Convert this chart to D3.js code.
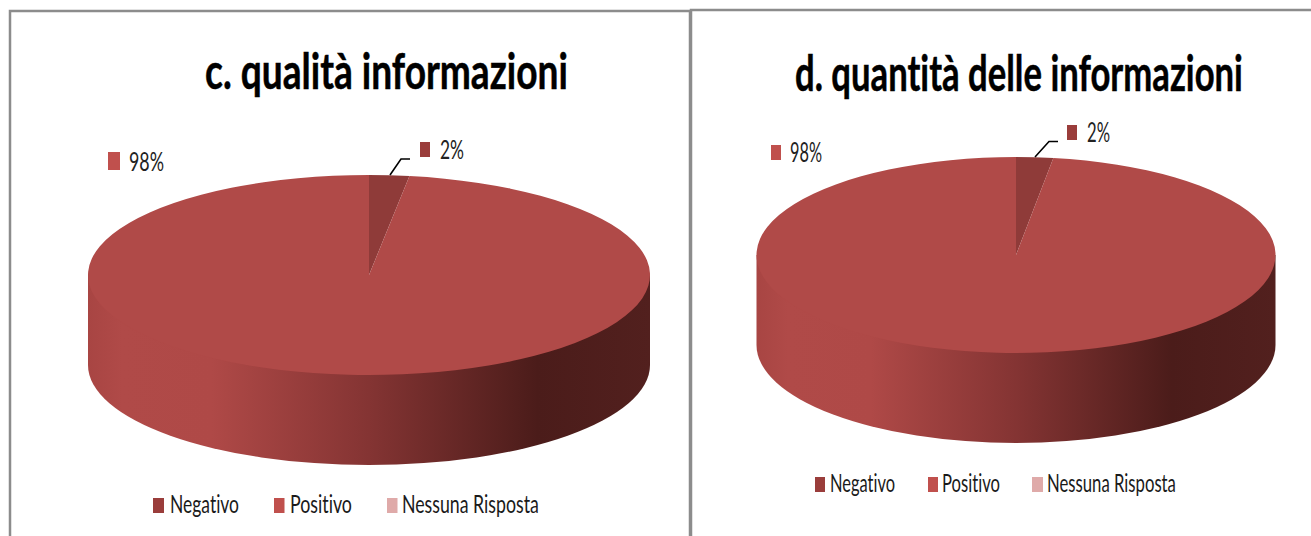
<!DOCTYPE html>
<html><head><meta charset="utf-8">
<script src="https://cdn.jsdelivr.net/npm/d3@7/dist/d3.min.js"></script>
<style>html,body{margin:0;padding:0;background:#fff;overflow:hidden}svg{display:block}
text{font-family:Lato,"Open Sans",sans-serif;font-variant-ligatures:none;font-feature-settings:"liga" 0}</style></head>
<body><svg id="c" width="1311" height="536"></svg>
<script>
const categories = ["Negativo", "Positivo", "Nessuna Risposta"];
const colors = ["#9a3d3b", "#c0504d", "#dfaaa9"];
const valuesC = [2.3, 97.7, 0];
const valuesD = [2.3, 97.7, 0];
const titleC = "c. qualità informazioni";
const titleD = "d. quantità delle informazioni";

const panels = [
 {id:"c", title:titleC, values:valuesC, cx:369, cy:275, rx:281, ry:100, depth:90,
  tx:205, tw:363, ty:89, leader:[[390,175],[401,159],[410,159]],
  lab:[{m:[420,142,10,15],t:[440,24,159]},{m:[108,152,12,18],t:[129,35,171]}],
  leg:{y:498,h:15,y0:513,items:[[153,11,170,69],[274,10.5,290,62],[387,10.5,402,137]]}},
 {id:"d", title:titleD, values:valuesD, cx:1016, cy:255, rx:259.5, ry:98, depth:90,
  tx:795, tw:448, ty:91, leader:[[1035,157],[1049,141.5],[1058,141.5]],
  lab:[{m:[1067,125,10,15],t:[1087,23,142]},{m:[771,145,10,15],t:[790,32,162]}],
  leg:{y:477,h:15,y0:492,items:[[815,10,830,65],[928,10,942,58],[1032,11,1047,129]]}}
];

const svg = d3.select("#c");
const defs = svg.append("defs");
const R = 100;
const pct = d3.format(".0f");

// Narrow text by horizontal scaling so its box really is the target width
function fitText(sel, x, y, w){
  const n = sel.node().getComputedTextLength();
  sel.attr("transform",`translate(${x},${y}) scale(${w/n},1)`);
  return sel;
}

// frames
const frames = [[[10,536],[10,11],[690,11],[690,536]],[[691,536],[691,10],[1311,10]]];
svg.selectAll("path.frame").data(frames).join("path").attr("class","frame")
 .attr("d",d3.line()).attr("fill","none").attr("stroke","#8c8c8c").attr("stroke-width",2.5);

panels.forEach(p=>{
  const grad = defs.append("linearGradient").attr("id","side"+p.id)
     .attr("gradientUnits","userSpaceOnUse")
     .attr("x1",p.cx-p.rx).attr("x2",p.cx+p.rx).attr("y1",0).attr("y2",0);
  [[0,"#a84543"],[0.06,"#b04a48"],[0.22,"#af4947"],[0.5,"#843433"],[0.80,"#4b1c1a"],[1,"#52201e"]]
    .forEach(s=>grad.append("stop").attr("offset",s[0]).attr("stop-color",s[1]));

  const g = svg.append("g");
  // side wall
  g.append("path")
   .attr("d",`M${p.cx-p.rx},${p.cy}V${p.cy+p.depth}A${p.rx},${p.ry} 0 0 0 ${p.cx+p.rx},${p.cy+p.depth}V${p.cy}Z`)
   .attr("fill",`url(#side${p.id})`);

  // top face
  const pie = d3.pie().sort(null).startAngle(0).endAngle(2*Math.PI)(p.values);
  const arc = d3.arc().innerRadius(0).outerRadius(R);
  const top = ["#8f3b39","#b04a48","#dfaaa9"];
  g.append("g").attr("transform",`translate(${p.cx},${p.cy}) scale(${p.rx/R},${p.ry/R})`)
   .selectAll("path").data(pie).join("path").attr("d",arc).attr("fill",(d,i)=>top[i]);

  // title
  fitText(svg.append("text").text(p.title)
   .attr("font-size",50).attr("font-weight",700).attr("fill","#000")
   .attr("stroke","#000").attr("stroke-width",0.5), p.tx, p.ty, p.tw);

  // leader
  svg.append("path").attr("d",d3.line()(p.leader)).attr("fill","none")
   .attr("stroke","#000").attr("stroke-width",1.6);

  // data labels
  p.lab.forEach((l,i)=>{
    svg.append("rect").attr("x",l.m[0]).attr("y",l.m[1]).attr("width",l.m[2]).attr("height",l.m[3])
      .attr("fill",i==0?"#9a3d3b":"#c0504d");
    fitText(svg.append("text").text(pct(p.values[i])+"%")
      .attr("font-size",26).attr("fill","#222"), l.t[0], l.t[2], l.t[1]);
  });

  // legend
  categories.forEach((c,i)=>{
    const it=p.leg.items[i];
    svg.append("rect").attr("x",it[0]).attr("y",p.leg.y).attr("width",it[1]).attr("height",p.leg.h).attr("fill",colors[i]);
    fitText(svg.append("text").text(c)
      .attr("font-size",25).attr("fill","#1a1a1a"), it[2], p.leg.y0, it[3]);
  });
});
</script></body></html>
